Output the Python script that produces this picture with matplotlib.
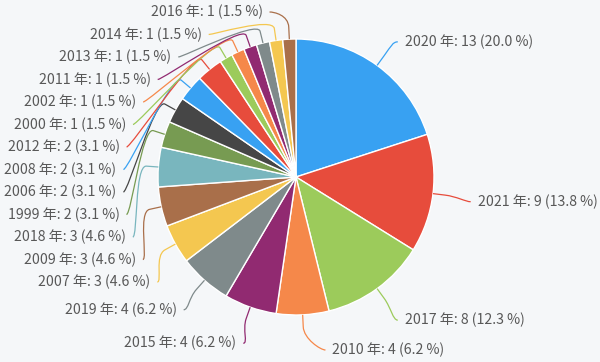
import numpy as np
import matplotlib.pyplot as plt
from matplotlib.path import Path
from matplotlib.patches import PathPatch

# data (clockwise from 12 o'clock)
years = ["2020", "2021", "2017", "2010", "2015", "2019", "2007", "2009", "2018", "1999",
         "2006", "2008", "2012", "2000", "2002", "2011", "2013", "2014", "2016"]
counts = [13, 9, 8, 4, 4, 4, 3, 3, 3, 2, 2, 2, 2, 1, 1, 1, 1, 1, 1]

palette = ["#38a1f2", "#e74c3c", "#9ccb5b", "#f5884a", "#912a71", "#7f8a8b",
           "#f4c750", "#a96f4a", "#79b6be", "#779b52", "#464646"]
bg = "#f5f7f9"
tc = "#585858"

plt.rcParams['font.family'] = ['Noto Sans CJK JP', 'DejaVu Sans']

fig = plt.figure(figsize=(6, 3.62), dpi=100, facecolor=bg)
ax = fig.add_axes([0, 0, 1, 1])

cx, cy, r = 296, 177, 138
cols = [palette[i % len(palette)] for i in range(len(counts))]
wedges, _ = ax.pie(counts, colors=cols, startangle=-90, counterclock=True,
                   center=(cx, cy), radius=r,
                   wedgeprops=dict(edgecolor="white", linewidth=1))
ax.set_xlim(0, 600)
ax.set_ylim(362, 0)
ax.set_aspect("equal")
ax.axis("off")

total = sum(counts)
n = len(counts)
# mid angle, clockwise from top
mids = [np.deg2rad((w.theta1 + w.theta2) / 2 + 90) for w in wedges]
sides = [-1 if np.sin(t) < 0 else 1 for t in mids]

# label layout
lab_cy = cy + 4
a, b = 180, 172
gap, ymin, ymax = 22.5, 12, 350
ys = [lab_cy - b * np.cos(t) for t in mids]
for side in (-1, 1):
    idx = sorted([i for i in range(n) if sides[i] == side], key=lambda i: ys[i])
    prev = ymin - gap
    for i in idx:
        ys[i] = max(ys[i], prev + gap)
        prev = ys[i]
    nxt = ymax + gap
    for i in reversed(idx):
        ys[i] = min(ys[i], nxt - gap)
        nxt = ys[i]

for i in range(n):
    t, y, s = mids[i], ys[i], sides[i]
    dy = y - lab_cy
    xoff = a * np.sqrt(max(0.0, 1 - (dy / b) ** 2))
    if s > 0:
        xoff += 3
    tx = cx + s * xoff
    pct = counts[i] / total * 100
    ax.text(tx, y, "%s 年: %d (%.1f %%)" % (years[i], counts[i], pct),
            ha="left" if s > 0 else "right", va="center",
            fontsize=10.2, color=tc)

    # connector: label -> soft curve -> break point -> slice edge
    lx = tx - s * 7
    T = np.array([cx + r * np.sin(t), cy - r * np.cos(t)])
    B = np.array([cx + (r + 12) * np.sin(t), cy - (r + 12) * np.cos(t)])
    c1 = (lx - s * 5, y)
    c2 = tuple(2 * B - T)
    path = Path([(lx, y), c1, c2, tuple(B), tuple(T)],
                [Path.MOVETO, Path.CURVE4, Path.CURVE4, Path.CURVE4, Path.LINETO])
    ax.add_patch(PathPatch(path, facecolor="none", edgecolor=cols[i], lw=0.9))

plt.savefig("out.png", dpi=100, facecolor=bg)
